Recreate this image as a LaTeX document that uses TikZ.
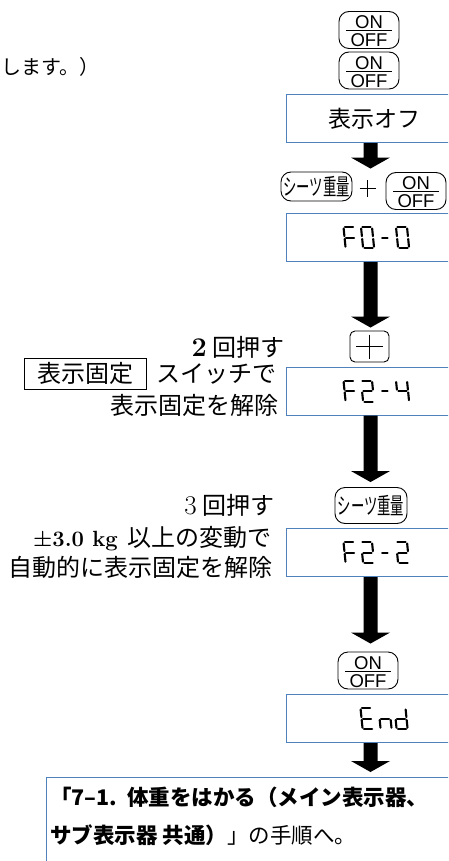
\documentclass[tikz,border=0pt]{standalone}
\usepackage{fontspec}
\usepackage{graphicx}
\newfontfamily\jp{Noto Sans CJK JP}
\newfontfamily\arial{Liberation Sans}
\usetikzlibrary{calc}
\definecolor{boxblue}{HTML}{4F81BD}
% seven-segment pieces (w=11, h=21, y up)
\def\sgA{(1.4,21)--(9.6,21)}
\def\sgB{(11,19.6)--(11,11.9)}
\def\sgC{(11,9.1)--(11,1.4)}
\def\sgD{(1.4,0)--(9.6,0)}
\def\sgE{(0,9.1)--(0,1.4)}
\def\sgF{(0,19.6)--(0,11.9)}
\def\sgG{(1.4,10.5)--(9.6,10.5)}
\def\sgM{(2.5,10.5)--(8,10.5)}
\newcommand\segchar[3]{%
  \begin{scope}[shift={($(#1.center)+(#2,10.5)$)},yscale=-1,xslant=0.1]
    \foreach \s in {#3}{\draw[segline] \csname sg\s\endcsname;}
  \end{scope}}
\newcommand\blockarr[2]{%
  \fill let \p1=(#1), \p2=(#2) in
    (\x1-7pt,\y1) -- (\x1+7pt,\y1) -- (\x1+7pt,\y2+11pt) -- (\x1+19.5pt,\y2+11pt)
    -- (\x1,\y2) -- (\x1-19.5pt,\y2+11pt) -- (\x1-7pt,\y2+11pt) -- cycle;}
\tikzset{
  dispbox/.style={draw=boxblue, line width=1.2pt, minimum width=176pt, minimum height=48pt,
    anchor=north west, inner sep=0pt, font=\jp\fontsize{23}{23}\selectfont},
  keyshape/.style={draw, line width=0.9pt, rounded corners=10pt, inner sep=0pt},
  segline/.style={line width=2.1pt, line cap=round},
  note/.style={anchor=base east, inner sep=0pt, font=\jp\fontsize{24}{24}\selectfont},
  keylabel/.style={anchor=base, inner sep=0pt, font=\arial\fontsize{18.5}{18.5}\selectfont},
  onoff/.pic={
    \node[keyshape, minimum width=60pt, minimum height=37pt] (-box) at (0,0) {};
    \node[keylabel] at (0,-1.3) {ON};
    \draw[line width=1pt] (-23,0.8) -- (23,0.8);
    \node[keylabel] at (0,16.6) {OFF};
  },
  sheetkey/.style={keyshape, minimum width=71pt, font=\jp\fontsize{23}{23}\selectfont},
}
\newcommand\sheettext{\scalebox{0.58}[1]{シーツ重量}}
\newcommand\bignum[1]{{\rmfamily\fontsize{27}{27}\selectfont #1}}
\begin{document}
\begin{tikzpicture}[x=1pt,y=-1pt]
\useasboundingbox (0,0) rectangle (448,861);
\clip (0,0) rectangle (448,861);
\coordinate (ax) at (370.5,0);

% top cut-off text
\node[anchor=base west, inner sep=0pt, font=\jp\fontsize{20}{20}\selectfont] (t0) at (1,74.5) {します。）};

% keys and boxes
\pic (k1) at (369,30) {onoff};
\pic (k2) at (369,70.5) {onoff};
\node[dispbox] (b1) at (286,94) {表示オフ};

\node[sheetkey, minimum height=29pt] (k3) at (316.5,186.5) {\sheettext};
\draw[line width=0.8pt] (359.5,188.5) -- (375.5,188.5) (367.5,180) -- (367.5,197);
\pic (k4) at (416,191) {onoff};

\node[dispbox] (b2) at (286,213) {};
\segchar{b2}{-29}{A,F,E,G}
\segchar{b2}{-11.5}{A,B,C,D,E,F}
\segchar{b2}{6}{M}
\segchar{b2}{23.5}{A,B,C,D,E,F}

\node[keyshape, rounded corners=5pt, minimum width=39pt, minimum height=31pt] (k5) at (369.5,346.5) {};
\draw[line width=1.4pt] ($(k5.center)+(-13.5,0)$) -- ($(k5.center)+(13.5,0)$)
  ($(k5.center)+(0,-12)$) -- ($(k5.center)+(0,12)$);

\node[dispbox] (b3) at (286,366.5) {};
\segchar{b3}{-29}{A,F,E,G}
\segchar{b3}{-11.5}{A,B,G,E,D}
\segchar{b3}{6}{M}
\segchar{b3}{23.5}{F,G,B,C}

\node[sheetkey, minimum width=72pt, minimum height=36pt] (k6) at (371,505.5) {\sheettext};

\node[dispbox] (b4) at (286,528) {};
\segchar{b4}{-29}{A,F,E,G}
\segchar{b4}{-11.5}{A,B,G,E,D}
\segchar{b4}{6}{M}
\segchar{b4}{23.5}{A,B,G,E,D}

\pic (k7) at (368,670.5) {onoff};

\node[dispbox] (b5) at (286,694) {};
\segchar{b5}{-12}{A,F,G,E,D}
\segchar{b5}{6}{G,E,C}
\segchar{b5}{22}{B,C,D,E,G}

\node[draw=boxblue, line width=1.2pt, anchor=north west, minimum width=420pt, minimum height=100pt] (fin) at (46,777) {};
\node[anchor=base west, inner sep=0pt, font=\jp\bfseries\fontsize{21.5}{21.5}\selectfont] (f1) at (50,805) {「7–1.\ \ 体重をはかる（メイン表示器、};
\node[anchor=base west, inner sep=0pt, font=\jp\fontsize{21.5}{21.5}\selectfont] (f2) at (50,843) {{\bfseries サブ表示器\ 共通）}」の手順へ。};

% arrows
\blockarr{b1.south -| ax}{$(k3.north -| ax)+(0,-3)$}
\blockarr{b2.south -| ax}{$(k5.north -| ax)+(0,-3)$}
\blockarr{b3.south -| ax}{$(k6.north -| ax)+(0,-5)$}
\blockarr{b4.south -| ax}{$(k7-box.north -| ax)+(0,-8)$}
\blockarr{b5.south -| ax}{$(fin.north -| ax)+(0,-5)$}

% annotations
\node[note] (t1) at (285,356) {\bignum{\bfseries 2}\hspace{6pt}回押す};
\node[note] (t2) at (277,382) {スイッチで};
\node[draw, line width=0.9pt, inner sep=0pt, minimum width=122pt, minimum height=31pt, font=\jp\fontsize{24}{24}\selectfont] (t2b) at (85,373.5) {表示固定};
\node[note] (t3) at (279,414) {表示固定を解除};
\node[note] (t4) at (275,514) {\bignum{3}\hspace{6pt}回押す};
\node[note] (t5) at (272,546) {{\rmfamily\bfseries\fontsize{22}{22}\selectfont ±3.0 kg}\hspace{10pt}以上の変動で};
\node[note] (t6) at (273,576) {自動的に表示固定を解除};
\end{tikzpicture}
\end{document}
